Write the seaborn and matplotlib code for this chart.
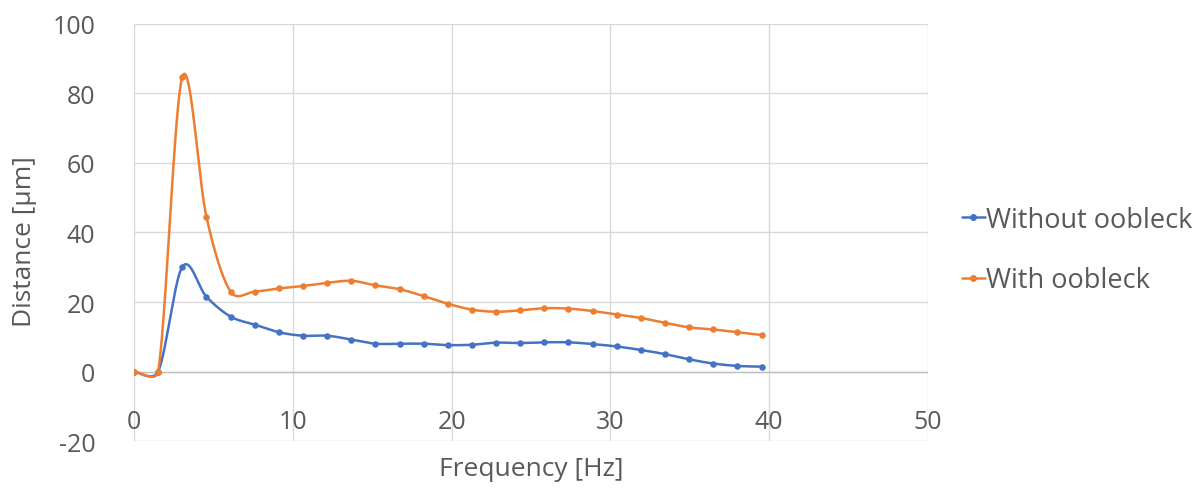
import numpy as np
import pandas as pd
import matplotlib
matplotlib.use("Agg")
import matplotlib.pyplot as plt
import seaborn as sns

frequency = [0.0, 1.52, 3.04, 4.56, 6.08, 7.6, 9.12, 10.64, 12.16, 13.68, 15.2, 16.72, 18.24,
             19.76, 21.28, 22.8, 24.32, 25.84, 27.36, 28.88, 30.4, 31.92, 33.44, 34.96, 36.48, 38.0, 39.52]
without_oobleck = [0.0, 0.0, 30.1, 21.5, 15.8, 13.5, 11.3, 10.3, 10.3, 9.2, 8.0, 8.0, 8.0,
                   7.6, 7.7, 8.3, 8.2, 8.4, 8.4, 7.9, 7.2, 6.2, 5.0, 3.5, 2.3, 1.6, 1.4]
with_oobleck = [0.0, 0.0, 84.7, 44.5, 23.0, 23.0, 23.9, 24.6, 25.5, 26.1, 24.8, 23.7, 21.7,
                19.5, 17.8, 17.2, 17.6, 18.2, 18.1, 17.4, 16.4, 15.4, 14.0, 12.7, 12.1, 11.3, 10.5]
series_names = ["Without oobleck", "With oobleck"]
colors = ["#4472C4", "#ED7D31"]
x_ticks = [0, 10, 20, 30, 40, 50]
y_ticks = [-20, 0, 20, 40, 60, 80, 100]

sns.set_theme(style="white")
plt.rcParams['font.family'] = ['Open Sans', 'DejaVu Sans']
plt.rcParams['axes.unicode_minus'] = False
gray = "#595959"

fig = plt.figure(figsize=(12.03, 4.89), dpi=100)
ax = fig.add_axes([0.1114, 0.0961, 0.66, 0.8528])

# Display scale (px per data unit) for Excel-like smoothing
SX, SY = 15.88, 3.47

def smooth(xs, ys, n=40):
    P = np.column_stack([np.asarray(xs) * SX, np.asarray(ys) * SY])
    m = len(P)
    out = [P[0]]
    def clamp(v, seg):
        L = np.linalg.norm(v)
        lim = 0.5 * seg
        return v * (lim / L) if L > lim and L > 0 else v
    for i in range(m - 1):
        p0, p1 = P[i], P[i + 1]
        pm = P[i - 1] if i > 0 else P[i]
        pn = P[i + 2] if i + 2 < m else P[i + 1]
        seg = np.linalg.norm(p1 - p0)
        c1 = p0 + clamp((p1 - pm) / 6.0, seg)
        c2 = p1 - clamp((pn - p0) / 6.0, seg)
        for s in np.linspace(0, 1, n)[1:]:
            b = ((1 - s) ** 3) * p0 + 3 * ((1 - s) ** 2) * s * c1 + 3 * (1 - s) * s * s * c2 + s ** 3 * p1
            out.append(b)
    out = np.array(out)
    return out[:, 0] / SX, out[:, 1] / SY

handles = []
for name, vals, c in zip(series_names, [without_oobleck, with_oobleck], colors):
    sx, sy = smooth(frequency, vals)
    curve = pd.DataFrame({"x": sx, "y": sy})
    sns.lineplot(data=curve, x="x", y="y", sort=False, color=c, linewidth=1.8, ax=ax, zorder=3)
    pts = pd.DataFrame({"x": frequency, "y": vals})
    sns.scatterplot(data=pts, x="x", y="y", color=c, s=22, edgecolor=c, linewidth=0, ax=ax, zorder=4)
    handles.append(plt.Line2D([], [], color=c, linewidth=1.8, marker="o", markersize=4))

ax.set_xlim(0, 50)
ax.set_ylim(-20, 100)
ax.set_xticks(x_ticks)
ax.set_yticks(y_ticks)
ax.grid(True, color="#d9d9d9", linewidth=1)
ax.axhline(0, color="#bfbfbf", linewidth=1, zorder=2)
for s in ax.spines.values():
    s.set_visible(False)
ax.spines['bottom'].set_position(('data', 0))
ax.tick_params(axis='both', length=0, labelsize=18, labelcolor=gray)
ax.tick_params(axis='y', pad=28)
ax.tick_params(axis='x', pad=27)
ax.set_xlabel("Frequency [Hz]", fontsize=19, color=gray)
ax.set_ylabel("Distance [µm]", fontsize=19, color=gray)
ax.xaxis.set_label_coords(0.5, -0.035)
ax.yaxis.set_label_coords(-0.122, 0.481)

fig.legend(handles, series_names, loc="center left", bbox_to_anchor=(0.779, 0.487),
           frameon=False, fontsize=19.5, labelcolor=gray, handlelength=0.85,
           handletextpad=0.05, labelspacing=1.2)

fig.savefig("out.png", dpi=100)
